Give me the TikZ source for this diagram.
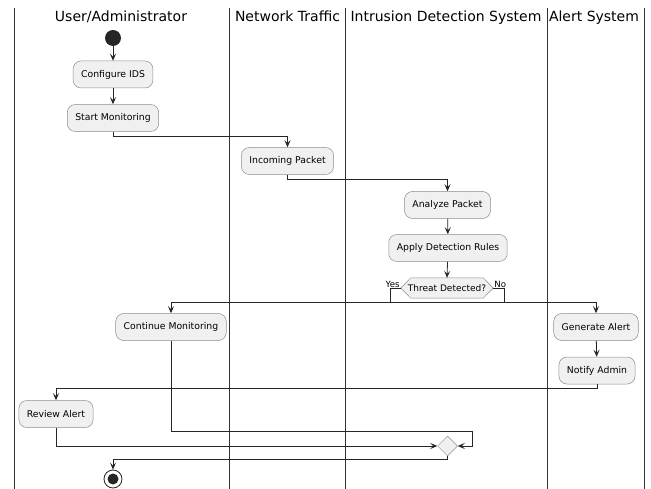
\documentclass[tikz,border=0pt]{standalone}
\usepackage{fontspec}
\setmainfont{DejaVu Sans}
\usetikzlibrary{shapes.geometric,arrows.meta}
\tikzset{
 act/.style={draw=black!45, line width=0.5pt, fill=black!6, rounded corners=8pt, minimum height=27pt, inner xsep=8pt, font=\fontsize{9.3}{11}\selectfont},
 hexshape/.style={draw=black!45, line width=0.5pt, fill=black!6},
 flow/.style={draw=black!85, line width=0.8pt},
 arr/.style={flow, -{Stealth[length=7pt,width=6pt,inset=3pt]}},
 lane/.style={draw=black!80, line width=1pt},
 head/.style={font=\fontsize{14}{16}\selectfont, anchor=base},
 lbl/.style={font=\fontsize{8.6}{10}\selectfont, inner sep=1pt},
}
\begin{document}
\begin{tikzpicture}[x=1pt,y=-1pt]
\useasboundingbox (0,0) rectangle (651,489);
% lanes
\foreach \x/\n in {14/l0,229/l1,345/l2,547/l3,644/l4}{
  \coordinate (\n t) at (\x,8);
  \coordinate (\n b) at (\x,489);
  \draw[lane] (\n t) -- (\n b);
}
\node[head] (h1) at (121,21.5) {User/Administrator};
\node[head] (h2) at (287.5,21.5) {Network Traffic};
\node[head] (h3) at (446,21.5) {Intrusion Detection System};
\node[head] (h4) at (594,21.5) {Alert System};
% routing rows
\coordinate (r1) at (0,136);
\coordinate (r2) at (0,179);
\coordinate (r3) at (0,302);
\coordinate (r4) at (0,388);
\coordinate (r5) at (0,431);
\coordinate (r7) at (0,459);
\coordinate (mr) at (472,0);
% nodes
\node[circle, fill=black!85, minimum size=16pt, inner sep=0] (start) at (113,38) {};
\node[act] (cfg) at (113,74.5) {Configure IDS};
\node[act] (smon) at (113,118) {Start Monitoring};
\node[act] (inc) at (287.5,161) {Incoming Packet};
\node[act] (ana) at (447.5,205) {Analyze Packet};
\node[act] (rules) at (448,248) {Apply Detection Rules};
\node[minimum width=92pt, minimum height=20pt, inner sep=0] (dec) at (447,288) {};
\draw[hexshape] ([xshift=10pt]dec.north west) -- ([xshift=-10pt]dec.north east) -- (dec.east) -- ([xshift=-10pt]dec.south east) -- ([xshift=10pt]dec.south west) -- (dec.west) -- cycle;
\node[font=\fontsize{9}{11}\selectfont] (dectext) at (dec) {Threat Detected?};
\node[lbl, anchor=south east] (yes) at ([yshift=-1pt]dec.west) {Yes};
\node[lbl, anchor=south west] (no) at ([yshift=-1pt]dec.east) {No};
\node[act] (cont) at (171,327) {Continue Monitoring};
\node[act] (gen) at (596,327) {Generate Alert};
\node[act] (notify) at (597,370.5) {Notify Admin};
\node[act] (review) at (56,414) {Review Alert};
\node[diamond, draw=black!45, line width=0.5pt, fill=black!6, inner sep=0, minimum width=20pt, minimum height=20pt] (merge) at (447.5,446) {};
\node[circle, draw=black!85, line width=0.8pt, fill=white, minimum size=18pt, inner sep=0] (end) at (113,479) {};
\node[circle, fill=black!85, minimum size=11pt, inner sep=0] (endin) at (end) {};
% edges
\draw[arr] (start) -- (cfg);
\draw[arr] (cfg) -- (smon);
\draw[arr] (smon) -- (smon.south |- r1) -| (inc.north);
\draw[arr] (inc) -- (inc.south |- r2) -| (ana.north);
\draw[arr] (ana) -- (rules);
\draw[arr] (rules) -- (dec.north);
\draw[arr] (dec.west) -- ++(-10,0) coordinate (yc) -- (yc |- r3) -| (gen.north);
\draw[arr] (dec.east) -- ++(11,0) coordinate (nc) -- (nc |- r3) -| (cont.north);
\draw[arr] (gen) -- (notify);
\draw[arr] (notify) -- (notify.south |- r4) -| (review.north);
\draw[arr] (review) -- (review.south |- merge) -- (merge.west);
\draw[arr] (cont) -- (cont.south |- r5) -- (mr |- r5) -- (mr |- merge) -- (merge.east);
\draw[arr] (merge) -- (merge.south |- r7) -| (end.north);
\end{tikzpicture}
\end{document}
